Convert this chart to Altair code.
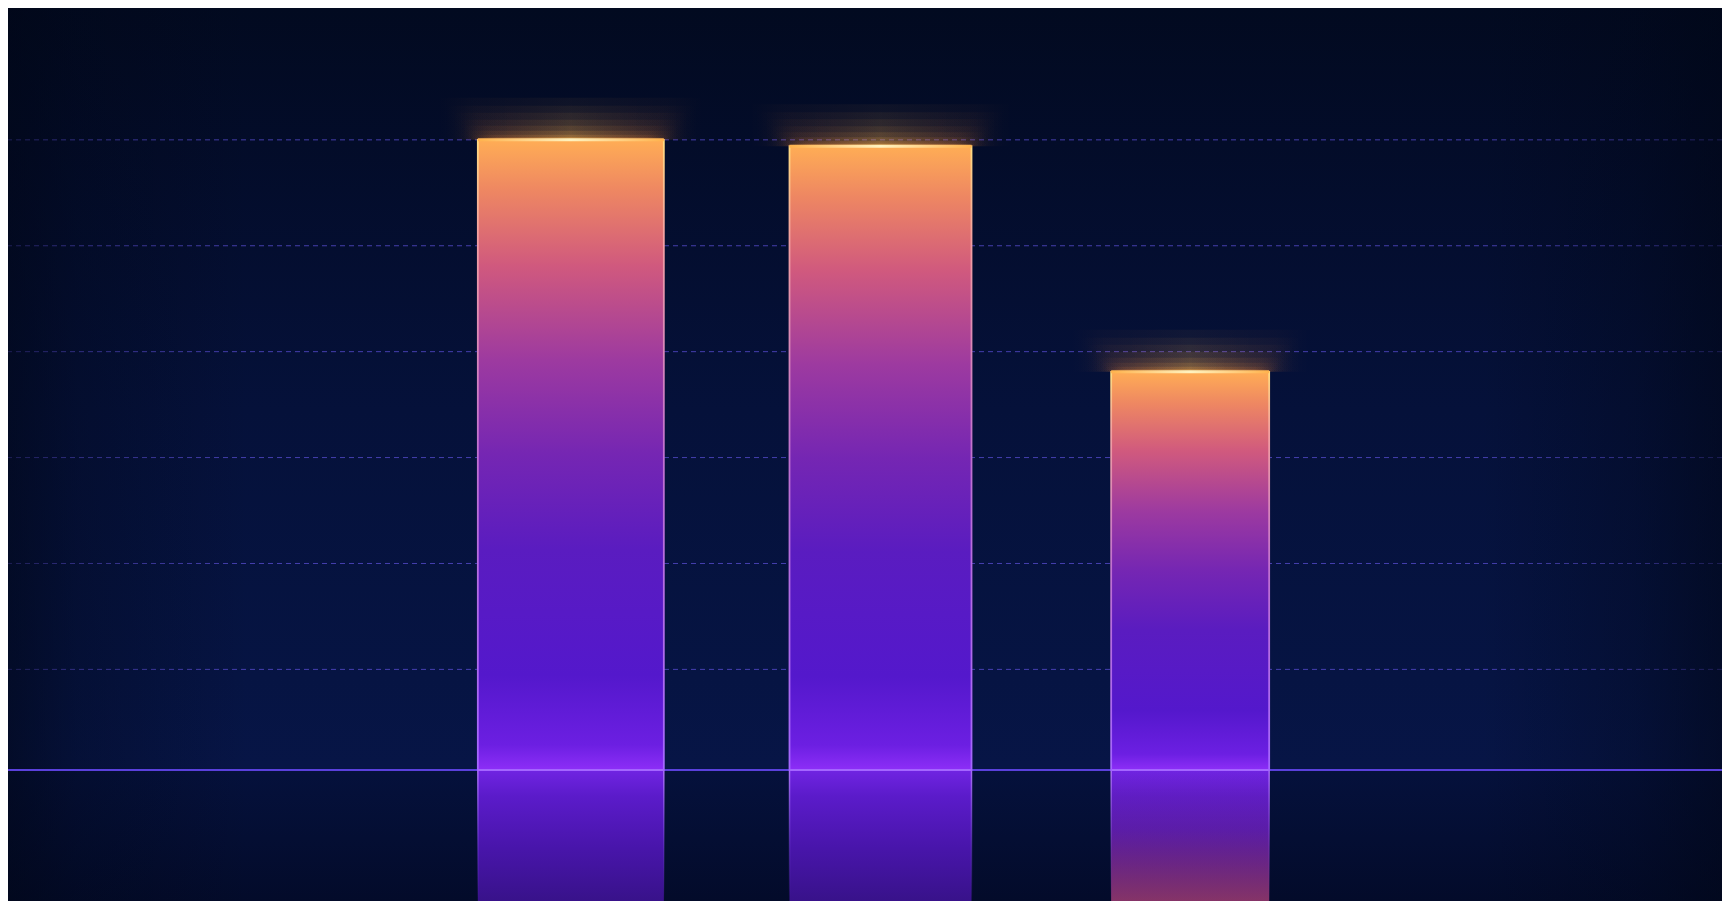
import altair as alt
import pandas as pd

# ---- data ----
CATEGORIES = ["A", "B", "C"]
VALUES = [59.5, 58.9, 37.6]
GRID = [9.5, 19.5, 29.5, 39.5, 49.5, 59.5]
BASELINE = [0]

df = pd.DataFrame({"cat": CATEGORIES, "value": VALUES})
grid_df = pd.DataFrame({"g": GRID})
base_df = pd.DataFrame({"b": BASELINE})

W, H = 1714, 893
Y_MIN, Y_MAX = -12.37, 71.95
PX = (Y_MAX - Y_MIN) / H  # data units per pixel (for glow offsets)

xscale = alt.Scale(domain=CATEGORIES, paddingInner=0, paddingOuter=0, range=[408, 1337])
yscale = alt.Scale(domain=[Y_MIN, Y_MAX], nice=False, zero=False)

X = alt.X("cat:N", scale=xscale, axis=None)


def widths(extra=0):
    return (alt.when(alt.datum.cat == "A").then(alt.value(186 + extra))
            .when(alt.datum.cat == "B").then(alt.value(182 + extra))
            .otherwise(alt.value(158 + extra)))


def lin(stops, vertical=True, up=True):
    if vertical:
        g = {"gradient": "linear", "x1": 0, "x2": 0,
             "y1": 1 if up else 0, "y2": 0 if up else 1}
    else:
        g = {"gradient": "linear", "x1": 0, "x2": 1, "y1": 0, "y2": 0}
    g["stops"] = [{"offset": o, "color": c} for o, c in stops]
    return g


bg_grad = lin([(0, "#020a20"), (0.15, "#030c29"), (0.45, "#05113a"),
               (0.75, "#061443"), (0.851, "#071546"), (0.854, "#05113c"),
               (0.93, "#040e33"), (1, "#030b2a")], up=False)
vign_grad = lin([(0, "rgba(1,6,22,0.6)"), (0.04, "rgba(1,6,22,0.3)"),
                 (0.14, "rgba(1,6,22,0)"), (0.86, "rgba(1,6,22,0)"),
                 (0.95, "rgba(1,6,22,0.3)"), (1, "rgba(1,6,22,0.6)")], vertical=False)

bar_grad = lin([(0, "#8d2ef7"), (0.04, "#6c1fe2"), (0.15, "#5418cc"),
                (0.35, "#5a1cc0"), (0.5, "#7526b3"), (0.65, "#9d3aa0"),
                (0.8, "#d0597e"), (0.92, "#ee8762"), (1, "#ffad55")])
bar_stroke = lin([(0, "#a466ff"), (0.5, "#c070d0"), (0.85, "#f4a0a0"), (1, "#ffdc80")])

refl_grad = lin([(0, "#7024e2"), (0.2, "#5b1bca"), (0.6, "#4815aa"), (1, "#38128a")], up=False)
refl_stroke = lin([(0, "rgba(180,120,255,0.9)"), (0.6, "rgba(150,90,255,0.3)"),
                   (1, "rgba(150,90,255,0)")], up=False)
refl_tint = lin([(0, "rgba(160,60,90,0)"), (0.45, "rgba(160,60,90,0.15)"),
                 (1, "rgba(175,70,85,0.65)")], up=False)

glow_h = lin([(0, "rgba(255,130,40,0)"), (0.12, "rgba(255,140,50,0.5)"),
              (0.5, "rgba(255,175,70,1)"), (0.88, "rgba(255,140,50,0.5)"),
              (1, "rgba(255,130,40,0)")], vertical=False)
line_grad = lin([(0, "#ffb24d"), (0.5, "#fff3c0"), (1, "#ffb24d")], vertical=False)

# ---- layers ----
background = alt.Chart(base_df).mark_rect(fill=bg_grad).encode(
    x=alt.value(0), x2=alt.value("width"), y=alt.value(0), y2=alt.value("height"))

gridlines = alt.Chart(grid_df).mark_rule(
    color="#5b4fd6", opacity=0.75, strokeWidth=1, strokeDash=[5, 4]
).encode(y=alt.Y("g:Q", scale=yscale, axis=None))

vignette = alt.Chart(base_df).mark_rect(fill=vign_grad).encode(
    x=alt.value(0), x2=alt.value("width"), y=alt.value(0), y2=alt.value("height"))

reflection = alt.Chart(df).transform_calculate(
    zero="0", floor=str(Y_MIN)
).mark_bar(
    fill=refl_grad, stroke=refl_stroke, strokeWidth=1.5
).encode(x=X, y=alt.Y("zero:Q", scale=yscale, axis=None), y2="floor:Q",
         size=widths())

reflection_tint = alt.Chart(df).transform_filter(alt.datum.cat == "C").transform_calculate(
    zero="0", floor=str(Y_MIN)
).mark_bar(fill=refl_tint).encode(
    x=X, y=alt.Y("zero:Q", scale=yscale, axis=None), y2="floor:Q",
    size=widths())

baseline = alt.Chart(base_df).mark_rule(color="#5a40dc", strokeWidth=2).encode(
    y=alt.Y("b:Q", scale=yscale, axis=None))

bars = alt.Chart(df).transform_calculate(zero="0").mark_bar(
    fill=bar_grad, stroke=bar_stroke, strokeWidth=1.8
).encode(x=X, y=alt.Y("value:Q", scale=yscale, axis=None), y2="zero:Q",
         size=widths())

# stacked soft glow bands above each bar top
glow_layers = []
for h_px, op, extra in [(42, 0.05, 80), (34, 0.06, 64), (27, 0.07, 50), (20, 0.09, 40),
                        (14, 0.12, 30), (9, 0.16, 22), (5, 0.22, 14), (2.5, 0.4, 8)]:
    glow_layers.append(
        alt.Chart(df).transform_calculate(
            lo="datum.value", hi=f"datum.value + {h_px * PX:.4f}"
        ).mark_bar(fill=glow_h, opacity=op).encode(
            x=X, y=alt.Y("lo:Q", scale=yscale, axis=None), y2="hi:Q",
            size=widths(extra))
    )

topline = alt.Chart(df).mark_tick(fill=line_grad, thickness=3, opacity=1).encode(
    x=X, y=alt.Y("value:Q", scale=yscale, axis=None),
    size=widths())

chart = alt.layer(
    background, gridlines, vignette, reflection, reflection_tint,
    baseline, bars, *glow_layers, topline
).properties(
    width=W, height=H, padding=0,
    autosize=alt.AutoSizeParams(type="none"),
    background="#020a22",
).configure_view(stroke=None)

chart.save("out.html", embed_options={"renderer": "svg", "actions": False})
